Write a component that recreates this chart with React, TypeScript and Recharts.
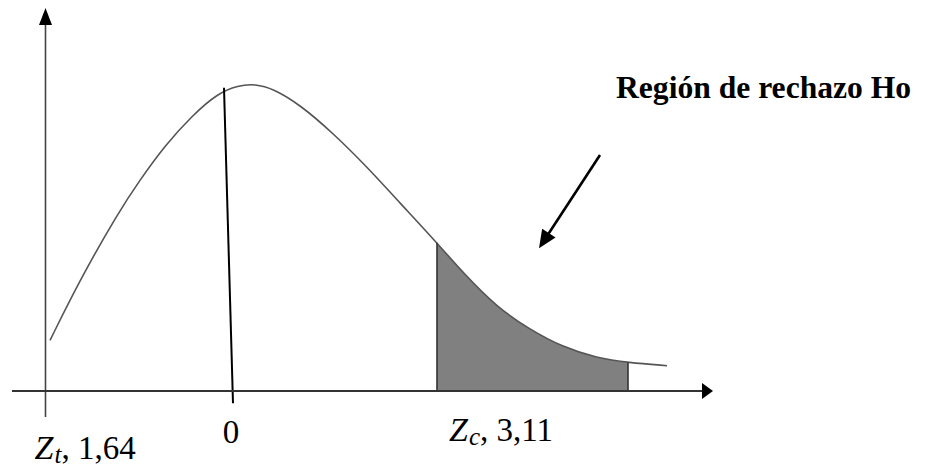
import React from 'react';
import { ComposedChart, Line, Area, XAxis, YAxis, ReferenceLine, ReferenceDot } from 'recharts';

// Schematic normal curve (diagram units)
const zValues = [-1.83, -1.53, -1.15, -0.93, -0.68, -0.4, -0.15, 0.05, 0.22, 0.4, 0.67, 1.0, 1.34, 1.67, 2.04, 2.3, 2.64, 2.97, 3.3, 3.64, 3.95, 4.34];
const density = [0.066, 0.145, 0.232, 0.275, 0.32, 0.36, 0.388, 0.398, 0.4, 0.394, 0.373, 0.336, 0.292, 0.245, 0.193, 0.154, 0.109, 0.08, 0.057, 0.043, 0.037, 0.033];

// Rejection region bounds
const regionStart = 2.04;
const regionEnd = 3.95;

// Axis positions
const yAxisZ = -1.875;
const yAxisBottom = -0.034;
const yAxisTop = 0.499;
const xAxisStart = -2.21;
const xAxisEnd = 4.8;

// Line at "0"
const zeroTop = { z: -0.09, y: 0.395 };
const zeroBottom = { z: 0, y: -0.016 };

// Pointer arrow
const pointerFrom = { z: 3.67, y: 0.3075 };
const pointerTo = { z: 3.06, y: 0.186 };

// Labels
const tickLabels = [
  { z: yAxisZ, main: 'Z', sub: 't', rest: ', 1,64' },
  { z: 0, main: '', sub: '', rest: '0' },
  { z: regionStart, main: 'Z', sub: 'c', rest: ', 3,11' },
];
const titleText = 'Región de rechazo Ho';
const titlePos = { z: 3.83, y: 0.3818 };

const data = zValues.map((z, i) => ({
  z,
  curve: density[i],
  shade: z >= regionStart - 1e-9 && z <= regionEnd + 1e-9 ? density[i] : null,
}));

const SERIF = '"Liberation Serif", "Times New Roman", serif';

const makeArrow = (headLen: number, headHalf: number, color: string, width: number, head = true) => (props: any) => {
  const { x1, y1, x2, y2 } = props;
  if ([x1, y1, x2, y2].some((v) => typeof v !== 'number' || isNaN(v))) return <g />;
  const dx = x2 - x1;
  const dy = y2 - y1;
  const len = Math.sqrt(dx * dx + dy * dy) || 1;
  const ux = dx / len;
  const uy = dy / len;
  const bx = x2 - ux * headLen;
  const by = y2 - uy * headLen;
  const px = -uy;
  const py = ux;
  const lx = head ? x2 - ux * headLen * 0.7 : x2;
  const ly = head ? y2 - uy * headLen * 0.7 : y2;
  return (
    <g>
      <line x1={x1} y1={y1} x2={lx} y2={ly} stroke={color} strokeWidth={width} />
      {head && (
        <polygon
          points={`${x2},${y2} ${bx + px * headHalf},${by + py * headHalf} ${bx - px * headHalf},${by - py * headHalf}`}
          fill="#000"
        />
      )}
    </g>
  );
};

const plainLine = (color: string, width: number) => (props: any) => {
  const { x1, y1, x2, y2 } = props;
  return <line x1={x1} y1={y1} x2={x2} y2={y2} stroke={color} strokeWidth={width} />;
};

const labelOffsets = [
  { dx: -11, dy: 68, anchor: 'start' },
  { dx: -2, dy: 52, anchor: 'middle' },
  { dx: 12, dy: 50, anchor: 'start' },
];

const makeLabel = (idx: number) => (props: any) => {
  const { cx, cy } = props;
  const l = tickLabels[idx];
  const o = labelOffsets[idx];
  return (
    <text x={cx + o.dx} y={cy + o.dy} textAnchor={o.anchor as any} fontFamily={SERIF} fontSize={33} fill="#000">
      {l.main && (
        <tspan fontStyle="italic" fontSize={34}>
          {l.main}
        </tspan>
      )}
      {l.sub && (
        <tspan fontStyle="italic" fontSize={25} dy={4} dx={1}>
          {l.sub}
        </tspan>
      )}
      <tspan dy={l.sub ? -4 : 0}>{l.rest}</tspan>
    </text>
  );
};

const titleShape = (props: any) => {
  const { cx, cy } = props;
  return (
    <text x={cx} y={cy} fontFamily={SERIF} fontWeight="bold" fontSize={31.6} fill="#000">
      {titleText}
    </text>
  );
};

export default function App() {
  return (
    <div style={{ position: 'absolute', left: 0, top: 0, background: '#fff' }}>
      <ComposedChart width={926} height={468} data={data} margin={{ top: 0, right: 0, bottom: 0, left: 0 }}>
        <XAxis dataKey="z" type="number" domain={[-2.33, 6.93]} hide />
        <YAxis type="number" domain={[-0.1003, 0.5094]} hide />
        <Area
          dataKey="shade"
          type="basis"
          fill="#808080"
          fillOpacity={1}
          stroke="none"
          baseValue={0}
          dot={false}
          activeDot={false}
          isAnimationActive={false}
        />
        <Line
          dataKey="curve"
          type="basis"
          stroke="#555"
          strokeWidth={1.6}
          dot={false}
          activeDot={false}
          isAnimationActive={false}
        />
        <ReferenceLine
          segment={[{ x: regionStart, y: density[zValues.indexOf(regionStart)] }, { x: regionStart, y: 0 }]}
          shape={plainLine('#333', 1.6)}
        />
        <ReferenceLine
          segment={[{ x: regionEnd, y: density[zValues.indexOf(regionEnd)] }, { x: regionEnd, y: 0 }]}
          shape={plainLine('#333', 1.6)}
        />
        <ReferenceLine
          segment={[{ x: zeroTop.z, y: zeroTop.y }, { x: zeroBottom.z, y: zeroBottom.y }]}
          shape={plainLine('#000', 2)}
        />
        <ReferenceLine
          segment={[{ x: yAxisZ, y: yAxisBottom }, { x: yAxisZ, y: yAxisTop }]}
          shape={makeArrow(17, 6.5, '#444', 1.6)}
        />
        <ReferenceLine
          segment={[{ x: xAxisStart, y: 0 }, { x: xAxisEnd, y: 0 }]}
          shape={makeArrow(11, 8, '#333', 1.8)}
        />
        <ReferenceLine
          segment={[{ x: pointerFrom.z, y: pointerFrom.y }, { x: pointerTo.z, y: pointerTo.y }]}
          shape={makeArrow(18, 8, '#000', 2.6)}
        />
        {tickLabels.map((l, i) => (
          <ReferenceDot key={i} x={l.z} y={0} r={0} shape={makeLabel(i)} />
        ))}
        <ReferenceDot x={titlePos.z} y={titlePos.y} r={0} shape={titleShape} />
      </ComposedChart>
    </div>
  );
}
